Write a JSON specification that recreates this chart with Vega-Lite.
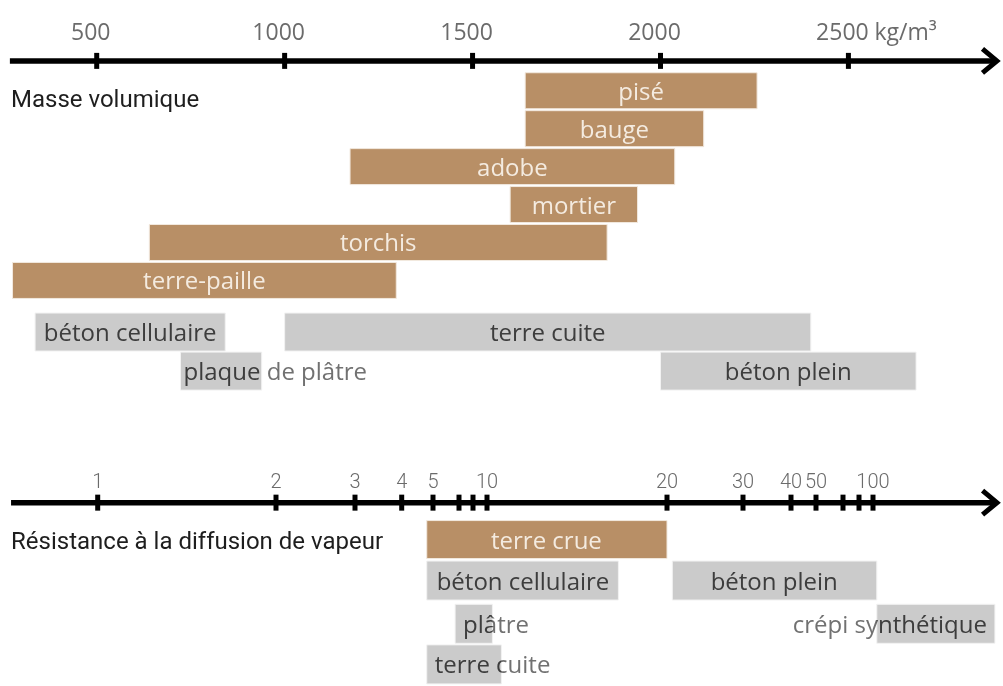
{
  "$schema": "https://vega.github.io/schema/vega-lite/v6.json",
  "width": 1003,
  "height": 686,
  "padding": 0,
  "autosize": {"type": "none"},
  "background": "white",
  "config": {"view": {"stroke": null}},
  "datasets": {
    "masse": [
      {"materiau": "pisé", "min": 1640, "max": 2257, "famille": "terre", "niveau": 1},
      {"materiau": "bauge", "min": 1640, "max": 2115, "famille": "terre", "niveau": 2},
      {"materiau": "adobe", "min": 1174, "max": 2038, "famille": "terre", "niveau": 3},
      {"materiau": "mortier", "min": 1600, "max": 1939, "famille": "terre", "niveau": 4},
      {"materiau": "torchis", "min": 640, "max": 1858, "famille": "terre", "niveau": 5},
      {"materiau": "terre-paille", "min": 276, "max": 1297, "famille": "terre", "niveau": 6},
      {"materiau": "béton cellulaire", "min": 336, "max": 842, "famille": "autre", "niveau": 7.36},
      {"materiau": "terre cuite", "min": 1000, "max": 2400, "famille": "autre", "niveau": 7.36},
      {"materiau": "plaque de plâtre", "min": 723, "max": 939, "famille": "autre", "niveau": 8.39},
      {"materiau": "béton plein", "min": 2000, "max": 2680, "famille": "autre", "niveau": 8.39}
    ],
    "vapeur": [
      {"materiau": "terre crue", "min": 4.8, "max": 20, "famille": "terre", "niveau": 12.83, "etiquette": 13.3},
      {"materiau": "béton cellulaire", "min": 4.8, "max": 17.3, "famille": "autre", "niveau": 13.91, "etiquette": 12},
      {"materiau": "béton plein", "min": 20.7, "max": 103, "famille": "autre", "niveau": 13.91, "etiquette": 36.5},
      {"materiau": "plâtre", "min": 5.85, "max": 10.3, "famille": "autre", "niveau": 15.05},
      {"materiau": "crépi synthétique", "min": 103, "max": 196, "famille": "autre", "niveau": 15.05},
      {"materiau": "terre cuite", "min": 4.8, "max": 10.8, "famille": "autre", "niveau": 16.12}
    ],
    "graduationsMasse": [
      {"v": 500, "label": "500"},
      {"v": 1000, "label": "1000"},
      {"v": 1500, "label": "1500"},
      {"v": 2000, "label": "2000"},
      {"v": 2500, "label": "2500"}
    ],
    "graduationsVapeur": [
      {"v": 1, "label": "1"},
      {"v": 2, "label": "2"},
      {"v": 3, "label": "3"},
      {"v": 4, "label": "4"},
      {"v": 5, "label": "5"},
      {"v": 6, "label": ""},
      {"v": 8, "label": ""},
      {"v": 10, "label": "10"},
      {"v": 20, "label": "20"},
      {"v": 30, "label": "30"},
      {"v": 40, "label": "40"},
      {"v": 50, "label": "50"},
      {"v": 60, "label": ""},
      {"v": 80, "label": ""},
      {"v": 100, "label": "100"}
    ]
  },
  "layer": [
    {
      "layer": [
        {
          "data": {"name": "masse"},
          "transform": [{"filter": "datum.famille == 'terre'"}],
          "mark": {"type": "bar", "orient": "horizontal", "size": 36, "color": "#b88f66", "stroke": "#f2e9df", "strokeWidth": 1},
          "encoding": {
            "x": {"field": "min", "type": "quantitative", "scale": {"domain": [242.7, 2911.3], "nice": false, "zero": false}, "axis": null},
            "x2": {"field": "max"},
            "y": {"field": "niveau", "type": "quantitative", "scale": {"domain": [-1.26, 16.558], "reverse": true, "nice": false, "zero": false}, "axis": null}
          }
        },
        {
          "data": {"name": "masse"},
          "transform": [{"filter": "datum.famille == 'autre'"}],
          "mark": {"type": "bar", "orient": "horizontal", "size": 38, "color": "#cbcbcb", "stroke": "#f2f2f2", "strokeWidth": 1},
          "encoding": {
            "x": {"field": "min", "type": "quantitative", "axis": null},
            "x2": {"field": "max"},
            "y": {"field": "niveau", "type": "quantitative", "axis": null}
          }
        },
        {
          "data": {"name": "masse"},
          "transform": [
            {"filter": "datum.famille == 'terre'"},
            {"calculate": "(datum.min + datum.max) / 2", "as": "milieu"}
          ],
          "mark": {"type": "text", "align": "center", "baseline": "middle", "dy": 2, "font": "Open Sans", "fontSize": 24, "color": "#f4ebe0"},
          "encoding": {
            "x": {"field": "milieu", "type": "quantitative", "axis": null},
            "y": {"field": "niveau", "type": "quantitative", "axis": null},
            "text": {"field": "materiau"}
          }
        },
        {
          "data": {"name": "masse"},
          "transform": [
            {"filter": "datum.famille == 'autre' && datum.materiau != 'plaque de plâtre'"},
            {"calculate": "(datum.min + datum.max) / 2", "as": "milieu"}
          ],
          "mark": {"type": "text", "align": "center", "baseline": "middle", "dy": 2, "font": "Open Sans", "fontSize": 24, "color": "#8e8e8e", "blend": "difference"},
          "encoding": {
            "x": {"field": "milieu", "type": "quantitative", "axis": null},
            "y": {"field": "niveau", "type": "quantitative", "axis": null},
            "text": {"field": "materiau"}
          }
        },
        {
          "data": {"name": "masse"},
          "transform": [{"filter": "datum.materiau == 'plaque de plâtre'"}],
          "mark": {"type": "text", "align": "left", "baseline": "middle", "dx": 3, "dy": 2, "font": "Open Sans", "fontSize": 24, "color": "#8e8e8e", "blend": "difference"},
          "encoding": {
            "x": {"field": "min", "type": "quantitative", "axis": null},
            "y": {"field": "niveau", "type": "quantitative", "axis": null},
            "text": {"field": "materiau"}
          }
        },
        {
          "data": {"values": [{}]},
          "mark": {"type": "rule", "color": "#000000", "strokeWidth": 5.5},
          "encoding": {
            "x": {"datum": 269, "type": "quantitative", "axis": null},
            "x2": {"datum": 2895},
            "y": {"datum": 0.213, "type": "quantitative", "axis": null}
          }
        },
        {
          "data": {"name": "graduationsMasse"},
          "mark": {"type": "tick", "orient": "vertical", "size": 16, "thickness": 5, "color": "#000000", "opacity": 1},
          "encoding": {
            "x": {"field": "v", "type": "quantitative", "axis": null},
            "y": {"datum": 0.213, "type": "quantitative", "axis": null}
          }
        },
        {
          "data": {"name": "graduationsMasse"},
          "mark": {"type": "text", "align": "center", "baseline": "alphabetic", "dx": -6, "dy": -21, "font": "Open Sans", "fontSize": 23, "color": "#6b6b6b"},
          "encoding": {
            "x": {"field": "v", "type": "quantitative", "axis": null},
            "y": {"datum": 0.213, "type": "quantitative", "axis": null},
            "text": {"field": "label"}
          }
        },
        {
          "data": {"values": [{}]},
          "mark": {"type": "text", "align": "left", "baseline": "alphabetic", "dx": 26, "dy": -21, "font": "Open Sans", "fontSize": 23, "color": "#6b6b6b"},
          "encoding": {
            "x": {"datum": 2500, "type": "quantitative", "axis": null},
            "y": {"datum": 0.213, "type": "quantitative", "axis": null},
            "text": {"value": "kg/m³"}
          }
        },
        {
          "data": {"values": [{}]},
          "mark": {"type": "point", "shape": "M-1.2,-1L0,0L-1.2,1", "size": 576, "filled": false, "stroke": "#000000", "strokeWidth": 5, "strokeJoin": "miter", "opacity": 1},
          "encoding": {
            "x": {"datum": 2895, "type": "quantitative", "axis": null},
            "y": {"datum": 0.213, "type": "quantitative", "axis": null}
          }
        },
        {
          "data": {"values": [{}]},
          "mark": {"type": "text", "align": "left", "baseline": "alphabetic", "font": "Roboto", "fontSize": 24, "color": "#1e1e1e"},
          "encoding": {
            "x": {"datum": 272, "type": "quantitative", "axis": null},
            "y": {"datum": 1.44, "type": "quantitative", "axis": null},
            "text": {"value": "Masse volumique"}
          }
        }
      ]
    },
    {
      "layer": [
        {
          "data": {"name": "vapeur"},
          "transform": [{"filter": "datum.famille == 'terre'"}],
          "mark": {"type": "bar", "orient": "horizontal", "size": 38, "color": "#b88f66", "stroke": "#f2e9df", "strokeWidth": 1},
          "encoding": {
            "x": {"field": "min", "type": "quantitative", "scale": {"type": "linear", "domain": [1, 2, 3, 4, 5, 6, 8, 10, 20, 30, 40, 50, 60, 80, 100, 200], "range": [97.7, 276, 355, 401.7, 433, 459, 473, 487, 667, 743, 791, 816, 843, 859, 873, 1000], "nice": false, "zero": false}, "axis": null},
            "x2": {"field": "max"},
            "y": {"field": "niveau", "type": "quantitative", "axis": null}
          }
        },
        {
          "data": {"name": "vapeur"},
          "transform": [{"filter": "datum.famille == 'autre'"}],
          "mark": {"type": "bar", "orient": "horizontal", "size": 39, "color": "#cbcbcb", "stroke": "#f2f2f2", "strokeWidth": 1},
          "encoding": {
            "x": {"field": "min", "type": "quantitative", "axis": null},
            "x2": {"field": "max"},
            "y": {"field": "niveau", "type": "quantitative", "axis": null}
          }
        },
        {
          "data": {"name": "vapeur"},
          "transform": [{"filter": "datum.famille == 'terre'"}],
          "mark": {"type": "text", "align": "center", "baseline": "middle", "dy": 2, "font": "Open Sans", "fontSize": 24, "color": "#f4ebe0"},
          "encoding": {
            "x": {"field": "etiquette", "type": "quantitative", "axis": null},
            "y": {"field": "niveau", "type": "quantitative", "axis": null},
            "text": {"field": "materiau"}
          }
        },
        {
          "data": {"name": "vapeur"},
          "transform": [{"filter": "datum.famille == 'autre' && isValid(datum.etiquette)"}],
          "mark": {"type": "text", "align": "center", "baseline": "middle", "dy": 2, "font": "Open Sans", "fontSize": 24, "color": "#8e8e8e", "blend": "difference"},
          "encoding": {
            "x": {"field": "etiquette", "type": "quantitative", "axis": null},
            "y": {"field": "niveau", "type": "quantitative", "axis": null},
            "text": {"field": "materiau"}
          }
        },
        {
          "data": {"name": "vapeur"},
          "transform": [{"filter": "datum.materiau == 'plâtre' || datum.materiau == 'terre cuite'"}],
          "mark": {"type": "text", "align": "left", "baseline": "middle", "dx": 8, "dy": 2, "font": "Open Sans", "fontSize": 24, "color": "#8e8e8e", "blend": "difference"},
          "encoding": {
            "x": {"field": "min", "type": "quantitative", "axis": null},
            "y": {"field": "niveau", "type": "quantitative", "axis": null},
            "text": {"field": "materiau"}
          }
        },
        {
          "data": {"name": "vapeur"},
          "transform": [{"filter": "datum.materiau == 'crépi synthétique'"}],
          "mark": {"type": "text", "align": "right", "baseline": "middle", "dx": -8, "dy": 2, "font": "Open Sans", "fontSize": 24, "color": "#8e8e8e", "blend": "difference"},
          "encoding": {
            "x": {"field": "max", "type": "quantitative", "axis": null},
            "y": {"field": "niveau", "type": "quantitative", "axis": null},
            "text": {"field": "materiau"}
          }
        },
        {
          "data": {"values": [{}]},
          "mark": {"type": "rule", "color": "#000000", "strokeWidth": 5.5},
          "encoding": {
            "x": {"datum": 0.514, "type": "quantitative", "axis": null},
            "x2": {"datum": 197.6},
            "y": {"datum": 11.857, "type": "quantitative", "axis": null}
          }
        },
        {
          "data": {"name": "graduationsVapeur"},
          "mark": {"type": "tick", "orient": "vertical", "size": 16, "thickness": 5, "color": "#000000", "opacity": 1},
          "encoding": {
            "x": {"field": "v", "type": "quantitative", "axis": null},
            "y": {"datum": 11.857, "type": "quantitative", "axis": null}
          }
        },
        {
          "data": {"name": "graduationsVapeur"},
          "mark": {"type": "text", "align": "center", "baseline": "alphabetic", "dy": -15, "font": "Roboto", "fontWeight": 300, "fontSize": 20, "color": "#6b6b6b"},
          "encoding": {
            "x": {"field": "v", "type": "quantitative", "axis": null},
            "y": {"datum": 11.857, "type": "quantitative", "axis": null},
            "text": {"field": "label"}
          }
        },
        {
          "data": {"values": [{}]},
          "mark": {"type": "point", "shape": "M-1.2,-1L0,0L-1.2,1", "size": 576, "filled": false, "stroke": "#000000", "strokeWidth": 5, "strokeJoin": "miter", "opacity": 1},
          "encoding": {
            "x": {"datum": 197.6, "type": "quantitative", "axis": null},
            "y": {"datum": 11.857, "type": "quantitative", "axis": null}
          }
        },
        {
          "data": {"values": [{}]},
          "mark": {"type": "text", "align": "left", "baseline": "alphabetic", "font": "Roboto", "fontSize": 24, "color": "#1e1e1e"},
          "encoding": {
            "x": {"datum": 0.514, "type": "quantitative", "axis": null},
            "y": {"datum": 13.08, "type": "quantitative", "axis": null},
            "text": {"value": "Résistance à la diffusion de vapeur"}
          }
        }
      ]
    }
  ],
  "resolve": {"scale": {"x": "independent"}}
}
